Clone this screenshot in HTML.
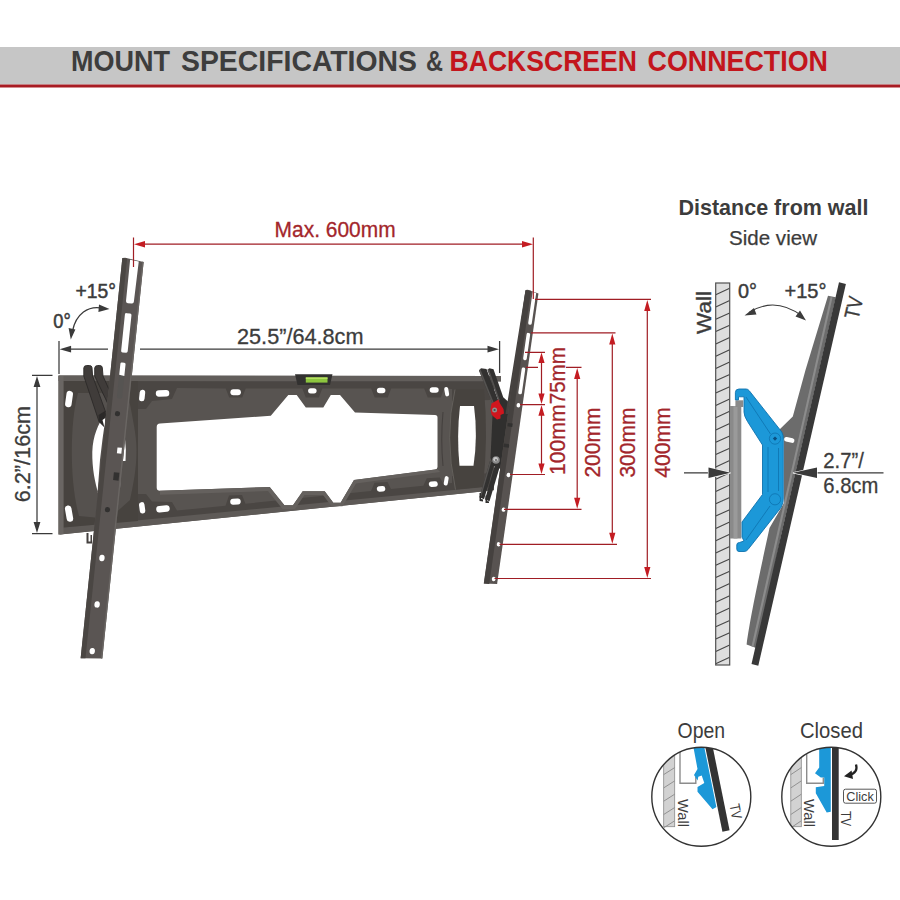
<!DOCTYPE html>
<html><head><meta charset="utf-8">
<style>
html,body{margin:0;padding:0;background:#fff;}
body{width:900px;height:900px;overflow:hidden;font-family:"Liberation Sans",sans-serif;}
svg{display:block;}
text{font-family:"Liberation Sans",sans-serif;}
</style></head><body>
<svg width="900" height="900" viewBox="0 0 900 900">
<rect width="900" height="900" fill="#fff"/>
<!-- HEADER -->
<g id="header">
<rect x="0" y="47" width="900" height="37.5" fill="#c6c6c6"/>
<rect x="0" y="84.5" width="900" height="3" fill="#a81c23"/>
<g font-size="29.3" font-weight="bold" fill="#3d3d3d">
<text x="71" y="70.5" textLength="99" lengthAdjust="spacingAndGlyphs">MOUNT</text>
<text x="181" y="70.5" textLength="236" lengthAdjust="spacingAndGlyphs">SPECIFICATIONS</text>
<text x="426" y="70.5" textLength="17" lengthAdjust="spacingAndGlyphs">&amp;</text>
</g>
<g font-size="29.3" font-weight="bold" fill="#c3151c">
<text x="449.5" y="70.5" textLength="187.5" lengthAdjust="spacingAndGlyphs">BACKSCREEN</text>
<text x="647.5" y="70.5" textLength="180.5" lengthAdjust="spacingAndGlyphs">CONNECTION</text>
</g>
</g>
<!-- BRACKET -->
<g id="bracket">
<path d="M58.5 375.5 L501 376 L501 381.5 L494 381.5 L494 490.3 L60 534.4 L58.5 534.4Z" fill="#585451"/>
<path d="M130 381 L490 381 L490 400 L452 401 L452.0 389.0 L444.2 388.5 L440.7 397.5 L427.7 397.5 L424.2 388.5 L391.2 388.5 L387.7 397.5 L374.7 397.5 L371.2 388.5 L322.3 388.5 L318.8 397.5 L305.8 397.5 L302.3 388.5 L245.7 388.5 L242.2 397.5 L229.2 397.5 L225.7 388.5 L177.0 388.0 L172 399 L152 401 L146 409 L130 409Z" fill="#4a4643"/>
<path d="M130 522.4 L490 487.1 L490 473.1 L452 475.9 L452.0 482.9 L443.3 483.8 L439.8 477.5 L426.8 478.2 L423.3 485.8 L391.0 489.1 L387.5 482.1 L374.5 482.8 L371.0 491.1 L245.5 503.7 L242.0 494.9 L229.0 495.6 L225.5 505.7 L177.0 510.6 L172 502 L152 501.5 L146 494 L130 494Z" fill="#4a4643"/>
<path d="M58.5 375.5 L501 376 L501 381.3 L58.5 381Z" fill="#625e5b"/>
<path d="M63.5 527.5 L485 487 L485 491.2 L60 534.4Z" fill="#5e5a57"/>
<path d="M63.5 381 L138 381 L138 521.0 L63.5 527.5Z" fill="#47433f"/>
<path d="M58.5 376 L63.5 376 L63.5 533.9 L58.5 534.4Z" fill="#6a6663"/>
<path d="M78 393 C73.5 410 71.8 430 71.8 452 C71.8 475 74 498 79 516 L100 518 L103 500 L108 400 L102 393Z" fill="#55514e"/>
<path d="M128 394 C133 420 136.5 435 136.5 450 C136.5 470 133 485 130 500 L112 516 L108 400Z" fill="#55514e"/>
<path d="M104.5 415 C98 425 93 435 92.3 452 C92 468 95 483 98.5 494 L97.6 492 L100 460 L102.4 440 L105.5 418Z" fill="#fff"/>
<path d="M121.5 440 L125 439 Q126.5 450 125.5 461 L119.5 461Z" fill="#fff"/>
<path d="M119 468 L121.3 468 L120 488 L117.3 488Z" fill="#fff"/>
<path d="M160 423.5 L270.8 415.8 L288.3 395 L296.7 395 L305.8 407.5 L323.3 407.5 L330.8 395 L340 395 L355 412.5 L435 415 Q437.5 415 437.5 417.5 L437.5 467 Q437.5 469.2 435 469.5 L354 480 L340.6 502.8 L333.3 502.8 L324.7 491.3 L302.7 491.3 L293 505.3 L284.4 505.3 L269.7 487 L160 490.8 Q156.7 490.8 156.7 487.5 L156.7 427 Q156.7 423.7 160 423.5Z" fill="#fff"/>
<path d="M160 490.8 L269.7 487 L284.4 505.3 L293 505.3 L302.7 491.3 L324.7 491.3 L333.3 502.8 L340.6 502.8 L354 480 L437.5 469.2 L440 472 L356 483.5 L342.5 506.3 L331.5 506.3 L323 495 L304.5 495 L295 509 L282.5 509 L268 491 L160 494.8Z" fill="#65615e"/>
<path d="M455 389.5 L484 389.5 Q488.5 436 483 486.8 L455.5 489.6 Q444 436 455 389.5Z" fill="#47433f"/>
<path d="M455 389.5 Q444 436 455.5 489.6" stroke="#67635f" stroke-width="0.9" fill="none"/>
<path d="M460 406 L474 406 Q478 436 473.5 465.8 L459.5 465.8 Q456.5 436 460 406Z" fill="#fff"/>
<path d="M443 412 Q440.5 440 443 466" stroke="#45413f" stroke-width="1.1" fill="none"/>
<rect x="65.8" y="390.8" width="6.5" height="16.5" rx="3.2" fill="#fff" transform="rotate(8 69 399)"/>
<rect x="65.8" y="505.4" width="6.5" height="16.5" rx="3.2" fill="#fff" transform="rotate(-10 69 513.6)"/>
<rect x="139.4" y="389.8" width="5.5" height="11.5" rx="2.8" fill="#fff" transform="rotate(6 142.2 395.5)"/>
<rect x="139.4" y="502.1" width="5.5" height="11.5" rx="2.8" fill="#fff" transform="rotate(-8 142.2 507.8)"/>
<rect x="155.8" y="390.1" width="13.5" height="6.5" rx="3.2" fill="#fff" transform="rotate(-1 162.5 393.3)"/>
<rect x="156.2" y="505.6" width="13.5" height="6.5" rx="3.2" fill="#fff" transform="rotate(-5 163 508.8)"/>
<rect x="230.4" y="389.3" width="10.5" height="6" rx="3.0" fill="#fff" transform="rotate(0 235.7 392.3)"/>
<rect x="230.2" y="498.6" width="10.5" height="6" rx="3.0" fill="#fff" transform="rotate(-5 235.5 501.6)"/>
<rect x="308.1" y="388.2" width="8.5" height="5.2" rx="2.6" fill="#fff" transform="rotate(0 312.3 390.8)"/>
<rect x="376.9" y="387.8" width="8.5" height="5.5" rx="2.8" fill="#fff" transform="rotate(0 381.2 390.5)"/>
<rect x="376.8" y="486.1" width="8.5" height="5.5" rx="2.8" fill="#fff" transform="rotate(-6 381 488.8)"/>
<rect x="429.7" y="387.2" width="9" height="5.5" rx="2.8" fill="#fff" transform="rotate(0 434.2 390)"/>
<rect x="428.8" y="481.4" width="9" height="5.5" rx="2.8" fill="#fff" transform="rotate(-6 433.3 484.2)"/>
<rect x="444.7" y="386.9" width="4" height="9.5" rx="2.0" fill="#fff" transform="rotate(-10 446.7 391.7)"/>
<rect x="444.2" y="476.1" width="4" height="9.5" rx="2.0" fill="#fff" transform="rotate(10 446.2 480.8)"/>
<path d="M295 374.2 L332.5 374.2 L330 385 L297.5 385Z" fill="#323130"/>
<rect x="305.8" y="377.4" width="21.7" height="5.2" fill="#8dc63f"/>
<rect x="305.8" y="377.4" width="21.7" height="1.6" fill="#b5e061"/>
<path d="M83.8 368 Q84 365.5 86.5 365.5 L89.5 365.5 Q91.7 365.5 92 367.5 L92.6 376 L105.8 412.5 L104.5 427 L99 421.5 L83.8 376Z" fill="#403c3a" stroke="#2b2928" stroke-width="0.9"/>
<path d="M94.7 368 Q95 365.5 97.5 365.5 L99.8 365.5 Q102 365.5 102.3 367.5 L103 376 L111 394 L108 404 L94.7 376Z" fill="#403c3a" stroke="#2b2928" stroke-width="0.9"/>
<path d="M98.5 415 L105 411 L104.5 427 L99 421.5Z" fill="#2b2928"/>
<path d="M102.5 420 L105.3 418 L104.6 428Z" fill="#fff"/>
<g transform="translate(133 260) rotate(5.95)">
<path d="M-10.8 -1 L-8 -1.5 L10.8 0.8 L10.8 399.5 L-10.8 401.5Z" fill="#5a5553"/>
<path d="M-10.8 -1 L-6 -1 L-6 401 L-10.8 401.5Z" fill="#4a4643"/>
<path d="M9.4 0.6 L10.8 0.8 L10.8 399.5 L9.4 399.6Z" fill="#6a6663"/>
<path d="M-2.9 0 L5.9 1 L5.2 41.5 Q5.2 43.5 3.2 43.5 L-0.7 43.5 Q-2.7 43.5 -2.7 41.5Z" fill="#fff"/>
<rect x="-2.4" y="53.5" width="6.6" height="39.5" rx="1.6" fill="#fff"/>
<rect x="-1.8" y="103" width="5.2" height="36" rx="1.4" fill="#565452"/>
<path d="M-0.4 103 L2 103 Q3.4 103 3.4 104.4 L3.4 116.3 L-1.8 115.6 L-1.8 104.4 Q-1.8 103 -0.4 103Z" fill="#fff"/>
<circle cx="0.5" cy="154.5" r="2.6" fill="#323130"/>
<circle cx="0.5" cy="251" r="2.6" fill="#323130"/>
<path d="M4 188 L8.5 188 L8.5 194 L4 194Z" fill="#fff"/>
<path d="M3 213 L8.5 213 L8.5 221 L3 221Z" fill="#323130"/>
<ellipse cx="0" cy="299.6" rx="2.7" ry="3.2" fill="#fff"/>
<ellipse cx="0" cy="346.3" rx="2.7" ry="3.2" fill="#fff"/>
<ellipse cx="0" cy="393.2" rx="2.7" ry="3.2" fill="#fff"/>
</g>
<path d="M86.5 533 L88.5 533 L88.5 541.5 L90.5 541.5 L90.5 535 L92 535 L92 543.5 L86.5 543.5Z" fill="#45413f"/>
<path d="M479 370.5 L481 368.3 L486.5 369 L498.5 401 L493.5 406Z" fill="#323130"/>
<path d="M479 370.5 L480.3 369 L494.5 404.5 L493.5 406Z" fill="#555351"/>
<path d="M487.5 369.8 L489.5 368.2 L493.5 369.3 L503.5 398 L499 402Z" fill="#323130"/>
<path d="M487.5 369.8 L488.8 368.8 L500 401 L499 402Z" fill="#555351"/>
<path d="M493 405 L503.5 397.5 L512 405 L503 470 L494 466 L490.5 458Z" fill="#302f2e"/>
<path d="M490 461 L494.7 463.5 L484 499.3 L479.5 497.3Z" fill="#323130"/>
<path d="M495.2 464 L500 466 L489.5 501.3 L485 499.6Z" fill="#323130"/>
<path d="M490 461 L491.3 461.7 L480.8 497.9 L479.5 497.3Z" fill="#555351"/>
<path d="M479.5 493 L481 493 L481 499 L483 499.5 L483 501.5 L479.5 501Z M485.5 495.5 L487 495.5 L487 501 L489 501.5 L489 503 L485.5 503Z" fill="#323130"/>
<path d="M525.3 291.2 L508.3 397 L505.5 414 L510 414 L527 291.5Z" fill="#45413f"/>
<g transform="translate(532 292) rotate(8.1)">
<path d="M-6.6 -1 L-4.5 -1.6 L6.6 0.6 L6.6 294 L-6.6 295.5Z" fill="#585351"/>
<path d="M-6.6 -1 L-1.2 -1 L-1.2 295 L-6.6 295.5Z" fill="#45413f"/>
<path d="M0.6 -0.1 L4.3 0.4 L4.2 31 Q4.2 32.8 2.4 32.8 Q0.6 32.8 0.6 31Z" fill="#fff"/>
<rect x="0.6" y="41" width="3.6" height="27.5" rx="1.6" fill="#fff"/>
<rect x="0.6" y="76" width="3.6" height="27" rx="1.6" fill="#fff"/>
<ellipse cx="2.5" cy="114" rx="1.9" ry="2.2" fill="#fff"/>
<ellipse cx="2.5" cy="184.5" rx="1.9" ry="2.2" fill="#fff"/>
<ellipse cx="2.5" cy="219.5" rx="1.9" ry="2.2" fill="#fff"/>
<ellipse cx="2.5" cy="254.5" rx="1.9" ry="2.2" fill="#fff"/>
<ellipse cx="2.5" cy="289.5" rx="1.9" ry="2.2" fill="#fff"/>
<rect x="-5.5" y="133" width="5" height="3.5" fill="#323130"/>
<rect x="-6.5" y="154" width="5.5" height="3.5" fill="#323130"/>
</g>
<path d="M491.5 403.5 L495 401.5 L498.5 399.5 L500 403.5 L503.5 409 L504 413.5 L500.5 415 L500.5 418.5 L497 419.5 L494 417 L491.5 414.5 L490.5 409Z" fill="#d0161e"/>
<circle cx="494.6" cy="410" r="2.5" fill="#8f8f8f"/>
<circle cx="494.6" cy="410" r="1.1" fill="#4a4a4a"/>
<circle cx="496" cy="460" r="3.8" fill="#8a8a8a"/>
<circle cx="495.6" cy="459.3" r="2.3" fill="#c8c8c8"/>
<circle cx="496" cy="460" r="1" fill="#666"/>
</g>
<!-- DIMS -->
<g id="dims">
<g stroke="#a01d24" stroke-width="1.2" fill="none">
<path d="M133.5 237.5V267 M533.3 237.5V299"/>
<path d="M140 244.2H527"/>
<path d="M525 352.3H545 M526 367.3H538 M520 404.6H545 M510 474.5H545"/>
<path d="M541.5 358V399 M541.5 411V468"/>
<path d="M566 367.3H581.5 M504 509.3H581.5 M577.2 376V501"/>
<path d="M531 332.8H615.5 M499.5 544.4H617 M612.3 342V535"/>
<path d="M535 299.4H651 M494.5 578.5H651 M647.3 309V569"/>
</g>
<g fill="#c41c22" stroke="none">
<path d="M134 244.2l11 -3.3v6.6z M533 244.2l-11 -3.3v6.6z"/>
<path d="M541.5 352.5l-3.1 10.5h6.2z M541.5 404l-3.1 -10.5h6.2z M541.5 405.3l-3.1 10.5h6.2z M541.5 474l-3.1 -10.5h6.2z"/>
<path d="M577.2 368l-3.1 11h6.2z M577.2 508.8l-3.1 -11h6.2z"/>
<path d="M612.3 333.5l-3.1 11h6.2z M612.3 543.8l-3.1 -11h6.2z"/>
<path d="M647.3 300l-3.1 11h6.2z M647.3 578l-3.1 -11h6.2z"/>
</g>
<g fill="#a3262b" font-size="22" stroke="#a3262b" stroke-width="0.3">
<text x="274.6" y="236.8" textLength="121" lengthAdjust="spacingAndGlyphs">Max. 600mm</text>
<text transform="translate(564.8 404.2) rotate(-90)" textLength="57" lengthAdjust="spacingAndGlyphs">75mm</text>
<text transform="translate(564.8 475) rotate(-90)" textLength="70.5" lengthAdjust="spacingAndGlyphs">100mm</text>
<text transform="translate(599.8 477.6) rotate(-90)" textLength="70" lengthAdjust="spacingAndGlyphs">200mm</text>
<text transform="translate(635.3 477.6) rotate(-90)" textLength="70" lengthAdjust="spacingAndGlyphs">300mm</text>
<text transform="translate(669.8 477.8) rotate(-90)" textLength="70.5" lengthAdjust="spacingAndGlyphs">400mm</text>
</g>
<g stroke="#3a3a3a" stroke-width="1.25" fill="none">
<path d="M59 341V374 M499.6 341V373"/>
<path d="M66 349.2H108 M140 349.2H493"/>
<path d="M32 375.3H52.5 M32 533.5H52.5 M37 385V524"/>
<path d="M103 308.3 C88 305 76 314 72.5 331"/>
</g>
<g fill="#3a3a3a" stroke="none">
<path d="M59.6 349.2l11.5 -3.4v6.8z M499 349.2l-11.5 -3.4v6.8z"/>
<path d="M37 376l-3.4 11h6.8z M37 533l-3.4 -11h6.8z"/>
<path d="M70.8 339.5l-2.2 -11.5l6.8 1.6z M109.5 309l-10.5 -4.6l-0.6 7.6z"/>
</g>
<g fill="#3c3c3c" font-size="22" stroke="#3c3c3c" stroke-width="0.3">
<text x="237" y="344" textLength="126.5" lengthAdjust="spacingAndGlyphs">25.5”/64.8cm</text>
<text transform="translate(30 502.3) rotate(-90)" textLength="96.5" lengthAdjust="spacingAndGlyphs">6.2”/16cm</text>
<text x="75.5" y="298" font-size="19.5" textLength="40.5" lengthAdjust="spacingAndGlyphs" stroke-width="0.5">+15°</text>
<text x="53.3" y="328.2" font-size="19.5" textLength="17.5" lengthAdjust="spacingAndGlyphs" stroke-width="0.5">0°</text>
</g>
</g>
<!-- SIDE -->
<g id="side">
<text x="678.5" y="214.7" font-size="21.5" font-weight="bold" fill="#3c3c3c" textLength="190" lengthAdjust="spacingAndGlyphs">Distance from wall</text>
<text x="729" y="244.5" font-size="21" fill="#3c3c3c" stroke="#3c3c3c" stroke-width="0.25" textLength="88" lengthAdjust="spacingAndGlyphs">Side view</text>
<defs><clipPath id="cw"><rect x="715.7" y="283" width="14" height="382"/></clipPath></defs>
<rect x="715.7" y="283" width="14" height="382" fill="#dedede"/>
<path d="M715.7 282.4L729.7 276.0M715.7 294.7L729.7 288.3M715.7 307.0L729.7 300.6M715.7 319.3L729.7 312.9M715.7 331.6L729.7 325.2M715.7 343.9L729.7 337.5M715.7 356.2L729.7 349.8M715.7 368.5L729.7 362.1M715.7 380.8L729.7 374.4M715.7 393.1L729.7 386.7M715.7 405.4L729.7 399.0M715.7 417.7L729.7 411.3M715.7 430.0L729.7 423.6M715.7 442.3L729.7 435.9M715.7 454.6L729.7 448.2M715.7 466.9L729.7 460.5M715.7 479.2L729.7 472.8M715.7 491.5L729.7 485.1M715.7 503.8L729.7 497.4M715.7 516.1L729.7 509.7M715.7 528.4L729.7 522.0M715.7 540.7L729.7 534.3M715.7 553.0L729.7 546.6M715.7 565.3L729.7 558.9M715.7 577.6L729.7 571.2M715.7 589.9L729.7 583.5M715.7 602.2L729.7 595.8M715.7 614.5L729.7 608.1M715.7 626.8L729.7 620.4M715.7 639.1L729.7 632.7M715.7 651.4L729.7 645.0M715.7 663.7L729.7 657.3M715.7 676.0L729.7 669.6" stroke="#484848" stroke-width="1.15" clip-path="url(#cw)"/>
<rect x="715.7" y="283" width="14" height="382" fill="none" stroke="#505050" stroke-width="1.2"/>
<text transform="translate(711 334) rotate(-90)" font-size="21" fill="#3c3c3c" textLength="43" lengthAdjust="spacingAndGlyphs" stroke="#3c3c3c" stroke-width="0.35">Wall</text>
<text x="738" y="298" font-size="21" fill="#3c3c3c" stroke="#3c3c3c" stroke-width="0.45" textLength="19" lengthAdjust="spacingAndGlyphs">0°</text>
<text x="784.5" y="298" font-size="21" fill="#3c3c3c" stroke="#3c3c3c" stroke-width="0.45" textLength="42" lengthAdjust="spacingAndGlyphs">+15°</text>
<text transform="translate(858.3 320) rotate(-77)" font-size="21" fill="#3c3c3c" textLength="22" lengthAdjust="spacingAndGlyphs" stroke="#3c3c3c" stroke-width="0.35">TV</text>
<path d="M749 312.5 Q775 296 802 316" stroke="#3c3c3c" stroke-width="1.1" fill="none"/>
<path d="M744.5 315.5 l9.5 -7.5 l2.5 6.5z M806 320.5 l-10.5 -4 l4.5 -6z" fill="#3c3c3c"/>
<rect x="730" y="406" width="11.3" height="132.5" fill="#8a8a8a"/>
<rect x="733.5" y="406" width="4" height="132.5" fill="#9a9a9a"/>
<rect x="735.4" y="400.3" width="7.8" height="6.7" fill="#8a8a8a"/>
<path d="M828 295.8 L835.8 297.3 L781 536 L757.5 648.5 L746.6 644.5 C750 620 756 590 769.5 528 L784 503 L784 440 L779 430 L792.8 416.4 L805.5 370Z" fill="#6c6c6c"/>
<path d="M830.5 297 L832.5 297.4 L753.5 647 L751.5 646.3Z" fill="#8c8c8c"/>
<path d="M839 282.3 L845.9 283.9 L758.3 665.7 L751.5 664.1Z" fill="#383838"/>
<rect x="784" y="437.6" width="10.5" height="4.6" rx="2.3" fill="#fff" transform="rotate(12 789 440)"/>
<path d="M735.4 399.9 L735.4 392.5 Q735.4 389 739 389 L746 389 Q748 389 749.3 390.8 L781.8 432 Q783.6 435 783.3 440 L783.3 496 Q784 503 781 507.5 L748 549.5 Q746.5 551.5 744 551.5 L739 551.5 Q736.8 551.5 736.8 549 L736.8 545 Q736.8 542.5 739.5 542.5 L744 541 L742 537 L742 522 L762.5 494.5 L762.5 445 L747.5 421.5 Q744 416 744 412 L744 396.8 L738.5 396.8 L738.5 399.9Z" fill="#1c98d8" stroke="#0e72ae" stroke-width="0.9" stroke-linejoin="round"/>
<circle cx="775" cy="438.6" r="5.6" fill="#1c98d8" stroke="#0e72ae" stroke-width="0.8"/>
<path d="M775 436.4 L777.2 438.6 L775 440.8 L772.8 438.6Z" fill="#0a4f80"/>
<circle cx="775" cy="499.3" r="5.6" fill="#1c98d8" stroke="#0e72ae" stroke-width="0.8"/>
<path d="M746 397 L770.5 434 M768 447 L768 492 M770 506 L746 540 M778.5 448 L778.5 491" stroke="#0e72ae" stroke-width="0.8" fill="none"/>
<path d="M684 472.8H710 M815 472.8H883.5" stroke="#3a3a3a" stroke-width="1.25"/>
<path d="M730.5 472.8 l-22 -5.3 v10.6z M793 472.8 l24 -5.3 v10.6z" fill="#3a3a3a" stroke="#fff" stroke-width="1.2" paint-order="stroke"/>
<text x="823.3" y="467.6" font-size="21.5" fill="#3c3c3c" stroke="#3c3c3c" stroke-width="0.3" textLength="40.5" lengthAdjust="spacingAndGlyphs">2.7”/</text>
<text x="823.3" y="493.3" font-size="21.5" fill="#3c3c3c" stroke="#3c3c3c" stroke-width="0.3" textLength="55" lengthAdjust="spacingAndGlyphs">6.8cm</text>
</g>
<!-- CIRCLES -->
<g id="circles">
<defs><clipPath id="c1"><circle cx="701.3" cy="796.7" r="49.5"/></clipPath><clipPath id="c2"><circle cx="831.3" cy="796.7" r="49.5"/></clipPath></defs>
<text x="677.6" y="738" font-size="21.5" fill="#3c3c3c" textLength="47.5" lengthAdjust="spacingAndGlyphs">Open</text>
<text x="800" y="738" font-size="21.5" fill="#3c3c3c" textLength="63" lengthAdjust="spacingAndGlyphs">Closed</text>
<g clip-path="url(#c1)">
<rect x="663.7" y="740" width="11" height="86.7" fill="#d2d2d2" stroke="#8a8a8a" stroke-width="0.8"/>
<path d="M663.7 748.0L674.7 741.0M663.7 761.3L674.7 754.3M663.7 774.6L674.7 767.6M663.7 787.9L674.7 780.9M663.7 801.2L674.7 794.2M663.7 814.5L674.7 807.5M663.7 827.8L674.7 820.8" stroke="#8a8a8a" stroke-width="0.9"/>
<path d="M680 745V783.3H695.8V776.7" stroke="#8c8c8c" stroke-width="1.4" fill="none"/>
<path d="M693 745 L706.7 745 L717.3 806.5 L712.5 809.2 L697.5 791.7 L697.5 787 L704.3 783 L701.7 775.5 L698.3 776.7 L697.6 780.5 L694 775 L697.5 769Z" fill="#1c98d8"/>
<path d="M708.6 745 L726 831" stroke="#fff" stroke-width="9.3"/>
<path d="M708.6 745 L726 831" stroke="#333" stroke-width="7.3"/>
<text transform="translate(677.5 799) rotate(90)" font-size="14.5" fill="#3c3c3c" textLength="28" lengthAdjust="spacingAndGlyphs">Wall</text>
<text transform="translate(729.5 805) rotate(79)" font-size="14.5" fill="#3c3c3c" textLength="15" lengthAdjust="spacingAndGlyphs">TV</text>
</g>
<circle cx="701.3" cy="796.7" r="49.5" fill="none" stroke="#333" stroke-width="1.4"/>
<g clip-path="url(#c2)">
<rect x="790.8" y="740" width="10.5" height="86.7" fill="#d2d2d2" stroke="#8a8a8a" stroke-width="0.8"/>
<path d="M790.8 748.0L801.3 741.0M790.8 761.3L801.3 754.3M790.8 774.6L801.3 767.6M790.8 787.9L801.3 780.9M790.8 801.2L801.3 794.2M790.8 814.5L801.3 807.5M790.8 827.8L801.3 820.8" stroke="#8a8a8a" stroke-width="0.9"/>
<path d="M806.7 745V783.3H823.3V777.5" stroke="#8c8c8c" stroke-width="1.4" fill="none"/>
<path d="M819.2 745 L830.8 745 L830.8 811.7 L826.7 812.5 L815.8 793.3 L815.8 787.2 L824.2 786 L824.2 777.5 L820.8 777.5 L815 773.3 L819.2 767.5Z" fill="#1c98d8"/>
<rect x="832" y="745" width="6.7" height="95" fill="#333"/>
<text transform="translate(804 799) rotate(90)" font-size="14.5" fill="#3c3c3c" textLength="28" lengthAdjust="spacingAndGlyphs">Wall</text>
<text transform="translate(841 811) rotate(90)" font-size="14.5" fill="#3c3c3c" textLength="15" lengthAdjust="spacingAndGlyphs">TV</text>
</g>
<circle cx="831.3" cy="796.7" r="49.5" fill="none" stroke="#333" stroke-width="1.4"/>
<rect x="843.5" y="789.2" width="33" height="14" rx="2" fill="#fff" stroke="#444" stroke-width="0.9"/>
<text x="846.3" y="800.5" font-size="12.5" fill="#3c3c3c" textLength="27.5" lengthAdjust="spacingAndGlyphs">Click</text>
<path d="M856 764.5 Q858.5 772.5 849 775.3" stroke="#222" stroke-width="2.3" fill="none"/>
<path d="M844 776.2 l7.6 -5.6 l1.4 8.4z" fill="#222"/>
</g>
</svg>
</body></html>
